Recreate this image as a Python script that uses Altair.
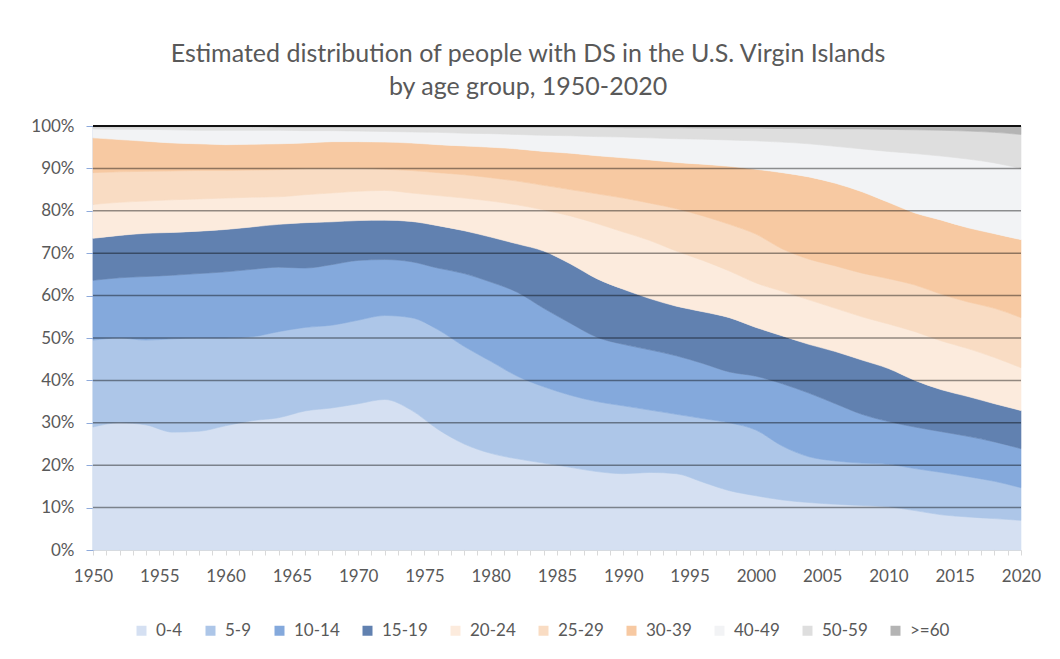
import altair as alt
import pandas as pd

years = list(range(1950, 2021, 2))
groups = ["0-4", "5-9", "10-14", "15-19", "20-24", "25-29", "30-39", "40-49", "50-59", ">=60"]
colors = ["#d5e0f2", "#adc6e8", "#84a9dc", "#6181b0", "#fcebdd", "#f9dcc3", "#f7c9a2",
          "#f2f3f5", "#dedede", "#b4b4b4"]

# cumulative upper edge (%) of each age band
top_0_4 = [29.0, 30.0, 29.5, 27.8, 28.0, 29.3, 30.5, 31.2, 32.8, 33.5, 34.5, 35.5, 33.0,
           28.5, 25.0, 22.8, 21.5, 20.5, 19.5, 18.5, 18.0, 18.3, 18.0, 16.0, 14.0,
           12.8, 11.8, 11.2, 10.8, 10.5, 10.2, 9.3, 8.3, 7.8, 7.4, 7.0]
top_5_9 = [49.5, 50.0, 49.5, 49.8, 50.0, 50.0, 50.3, 51.5, 52.5, 53.0, 54.2, 55.3, 54.8,
           52.0, 48.0, 44.5, 41.0, 38.5, 36.5, 35.0, 34.0, 33.0, 32.0, 31.0, 30.0,
           28.3, 24.5, 22.0, 21.0, 20.5, 20.2, 19.2, 18.3, 17.3, 16.2, 14.7]
top_10_14 = [63.6, 64.2, 64.5, 64.8, 65.2, 65.6, 66.2, 66.7, 66.5, 67.3, 68.3, 68.5, 68.0,
             66.5, 65.2, 63.2, 60.8, 57.0, 53.5, 50.2, 48.5, 47.2, 45.8, 44.0, 42.0,
             41.0, 39.2, 37.0, 34.5, 32.0, 30.3, 29.0, 27.9, 26.8, 25.5, 23.9]
top_15_19 = [73.5, 74.2, 74.7, 74.9, 75.2, 75.6, 76.2, 76.8, 77.2, 77.4, 77.7, 77.8, 77.5,
             76.5, 75.3, 73.8, 72.2, 70.5, 67.5, 64.0, 61.5, 59.3, 57.5, 56.2, 54.8,
             52.5, 50.5, 48.5, 46.8, 44.8, 42.8, 40.0, 37.8, 36.2, 34.5, 32.9]
top_20_24 = [81.5, 82.0, 82.3, 82.6, 82.8, 83.0, 83.2, 83.3, 83.8, 84.2, 84.6, 84.8, 84.2,
             83.6, 83.0, 82.3, 81.4, 80.2, 78.8, 77.0, 75.0, 73.0, 70.5, 68.3, 65.8,
             63.0, 61.0, 59.0, 57.0, 55.0, 53.3, 51.5, 49.3, 47.5, 45.4, 43.0]
top_25_29 = [89.0, 89.2, 89.3, 89.4, 89.5, 89.5, 89.6, 89.7, 89.9, 90.0, 90.0, 89.8, 89.5,
             89.0, 88.5, 87.8, 87.0, 86.0, 85.0, 84.0, 83.0, 81.8, 80.5, 78.8, 76.8,
             74.5, 71.0, 68.6, 67.0, 65.3, 64.0, 62.5, 60.3, 58.5, 57.0, 54.8]
top_30_39 = [97.2, 96.8, 96.4, 96.0, 95.8, 95.6, 95.7, 95.8, 96.0, 96.3, 96.3, 96.2, 96.0,
             95.6, 95.3, 95.0, 94.6, 94.0, 93.6, 93.0, 92.5, 92.0, 91.4, 91.0, 90.5,
             89.8, 89.0, 88.0, 86.5, 84.5, 82.0, 79.5, 77.8, 76.0, 74.6, 73.2]
top_40_49 = [99.3, 99.2, 99.2, 99.1, 99.0, 99.0, 99.0, 99.0, 98.9, 98.9, 98.8, 98.7, 98.6,
             98.5, 98.3, 98.2, 98.0, 97.8, 97.7, 97.5, 97.4, 97.2, 97.0, 96.9, 96.7,
             96.5, 96.2, 95.8, 95.2, 94.6, 94.0, 93.5, 92.9, 92.2, 91.3, 90.0]
top_50_59 = [99.8, 99.8, 99.8, 99.8, 99.8, 99.8, 99.8, 99.7, 99.7, 99.7, 99.7, 99.7, 99.7,
             99.7, 99.7, 99.7, 99.7, 99.7, 99.7, 99.7, 99.6, 99.6, 99.6, 99.5, 99.5,
             99.5, 99.4, 99.4, 99.3, 99.3, 99.2, 99.1, 99.0, 98.8, 98.5, 98.0]
top_60 = [100.0] * len(years)

tops = [top_0_4, top_5_9, top_10_14, top_15_19, top_20_24, top_25_29, top_30_39,
        top_40_49, top_50_59, top_60]

title_lines = ["Estimated distribution of people with DS in the U.S. Virgin Islands",
               "by age group,  1950-2020"]
y_ticks = [i / 10 for i in range(11)]
grid_vals = [i / 10 for i in range(1, 10)]

rows = []
for gi, g in enumerate(groups):
    for j, yr in enumerate(years):
        lo = tops[gi - 1][j] if gi > 0 else 0.0
        rows.append({"year": yr, "group": g, "order": gi,
                     "lower": lo / 100.0, "upper": tops[gi][j] / 100.0})
df = pd.DataFrame(rows)

FONT = "Lato"
GREY = "#595959"

color_scale = alt.Scale(domain=groups, range=colors)

areas = alt.Chart(df).mark_area(interpolate="monotone", strokeWidth=0.6).encode(
    x=alt.X("year:Q",
            scale=alt.Scale(domain=[1950, 2020], nice=False, zero=False),
            axis=alt.Axis(values=list(range(1950, 2021)),
                          labelExpr="datum.value % 5 === 0 ? '' + datum.value : ''",
                          labelOverlap=False, labelFlush=False, grid=False,
                          domainColor="#d9d9d9", tickColor="#d9d9d9", tickSize=5,
                          labelPadding=13, labelFontSize=17, labelColor=GREY,
                          labelFont=FONT, title=None)),
    y=alt.Y("upper:Q", stack=None,
            scale=alt.Scale(domain=[0, 1], nice=False),
            axis=alt.Axis(values=y_ticks, format=".0%", grid=False,
                          domainColor="#8eaadb", tickColor="#8eaadb", tickSize=7,
                          domainWidth=1.5, labelPadding=12, labelFontSize=17,
                          labelColor=GREY, labelFont=FONT, title=None)),
    y2="lower:Q",
    color=alt.Color("group:N", scale=color_scale, sort=groups,
                    legend=alt.Legend(orient="none", legendX=40, legendY=496,
                                      direction="horizontal", columns=10,
                                      symbolType="square", symbolSize=100,
                                      symbolStrokeWidth=0, labelFontSize=17,
                                      labelFont=FONT, labelColor=GREY,
                                      columnPadding=19, labelOffset=6,
                                      padding=0, title=None)),
    stroke=alt.Stroke("group:N", scale=color_scale, sort=groups, legend=None),
    order=alt.Order("order:Q"),
)

grid_df = pd.DataFrame({"v": grid_vals})
grid = alt.Chart(grid_df).mark_rule(color="#000000", opacity=0.42, strokeWidth=1.5).encode(
    y=alt.Y("v:Q", scale=alt.Scale(domain=[0, 1], nice=False))
)
top_df = pd.DataFrame({"v": [1.0]})
top_line = alt.Chart(top_df).mark_rule(color="#111111", strokeWidth=2).encode(
    y=alt.Y("v:Q", scale=alt.Scale(domain=[0, 1], nice=False))
)

chart = alt.layer(areas, grid, top_line).properties(
    width=928, height=424,
    title=alt.TitleParams(title_lines, fontSize=25, font=FONT, fontWeight="normal",
                          color=GREY, anchor="middle", dx=-29, offset=17,
                          lineHeight=33),
    autosize=alt.AutoSizeParams(type="none"),
    padding={"left": 85, "top": 118, "right": 31, "bottom": 101},
).configure(font=FONT, background="white").configure_view(stroke=None)

chart.save("out.html", embed_options={"renderer": "svg", "actions": False})
